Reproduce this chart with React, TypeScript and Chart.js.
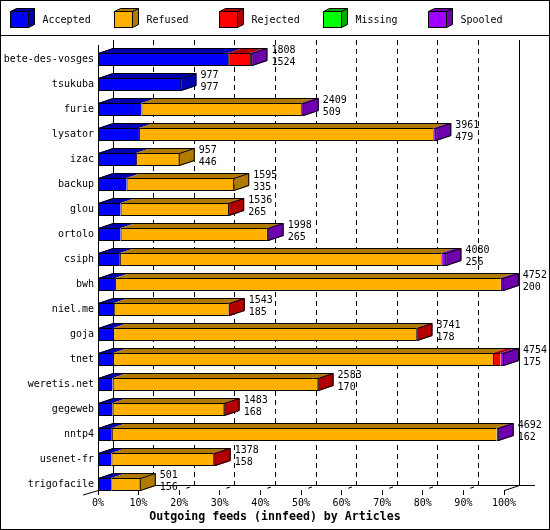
import React, { useEffect, useRef } from "react";
import { Chart, registerables } from "chart.js";

Chart.register(...registerables);

// ---------- data ----------
const hosts = [
  "bete-des-vosges", "tsukuba", "furie", "lysator", "izac", "backup", "glou", "ortolo", "csiph",
  "bwh", "niel.me", "goja", "tnet", "weretis.net", "gegeweb", "nntp4", "usenet-fr", "trigofacile",
];
const accepted = [1524, 977, 509, 479, 446, 335, 265, 265, 256, 200, 185, 178, 175, 170, 168, 162, 158, 156];
const refused = [0, 0, 1870, 3447, 511, 1260, 1259, 1713, 3764, 4517, 1346, 3551, 4449, 2408, 1310, 4505, 1190, 345];
const rejected = [257, 0, 0, 0, 0, 0, 12, 0, 0, 0, 12, 12, 90, 5, 5, 0, 30, 0];
const missing = [0, 0, 0, 0, 0, 0, 0, 0, 0, 0, 0, 0, 0, 0, 0, 0, 0, 0];
const spooled = [27, 0, 30, 35, 0, 0, 0, 20, 60, 35, 0, 0, 40, 0, 0, 25, 0, 0];

const seriesNames = ["Accepted", "Refused", "Rejected", "Missing", "Spooled"];
const frontColors = ["#0000ff", "#ffb000", "#ff0000", "#00ff00", "#a000ff"];
const sideColors = ["#0000b0", "#b07a00", "#b00000", "#00a800", "#6e00b0"];
const xTickValues = [0, 10, 20, 30, 40, 50, 60, 70, 80, 90, 100];
const titleText = "Outgoing feeds (innfeed) by Articles";

const FONT = "'DejaVu Sans Mono', monospace";
const DX = 15;
const DY = 5;

const seriesCounts = [accepted, refused, rejected, missing, spooled];
const totals = hosts.map((_, i) => seriesCounts.reduce((s, arr) => s + arr[i], 0));
const maxTotal = Math.max(...totals);

const crisp = (v: number) => Math.floor(v) + 0.5;

const plot3d = {
  id: "plot3d",
  beforeDatasetsDraw(chart: any) {
    const { ctx, chartArea: ca, scales } = chart;
    const xs = scales.x;
    const topY = ca.top - 7;
    const floorB = ca.bottom - 12;
    const floorF = floorB + DY;
    const x0 = xs.getPixelForValue(0);
    const x100 = xs.getPixelForValue(100);
    ctx.save();
    ctx.strokeStyle = "#000";
    ctx.lineWidth = 1;
    // dashed back grid
    ctx.setLineDash([5, 4]);
    for (const v of xTickValues) {
      if (v === 0 || v === 100) continue;
      const bx = crisp(xs.getPixelForValue(v) + DX);
      ctx.beginPath();
      ctx.moveTo(bx, topY);
      ctx.lineTo(bx, floorB);
      ctx.stroke();
    }
    ctx.setLineDash([]);
    // back walls
    const bl = crisp(x0 + DX);
    const br = crisp(x100 + DX);
    ctx.beginPath();
    ctx.moveTo(bl, topY);
    ctx.lineTo(bl, floorB + 0.5);
    ctx.moveTo(br, topY);
    ctx.lineTo(br, floorB + 0.5);
    ctx.moveTo(bl, crisp(floorB));
    ctx.lineTo(chart.width - 15, crisp(floorB));
    // front left axis
    ctx.moveTo(crisp(x0), ca.top - 2);
    ctx.lineTo(crisp(x0), floorF + 1);
    ctx.stroke();
    // floor diagonals
    ctx.beginPath();
    ctx.moveTo(x0 - DX, floorF + DY);
    ctx.lineTo(x0 + 0.5, floorF + 0.5);
    ctx.moveTo(x100 + 0.5, floorF + 0.5);
    ctx.lineTo(x100 + DX + 0.5, floorB + 0.5);
    ctx.stroke();
    // front ticks and floor markers
    ctx.beginPath();
    for (const v of xTickValues) {
      const fx = crisp(xs.getPixelForValue(v));
      ctx.moveTo(fx, floorF);
      ctx.lineTo(fx, floorF + DY);
      if (v !== 0 && v !== 100) {
        ctx.moveTo(fx + DX * 0.45, floorF - DY * 0.45 + 0.5);
        ctx.lineTo(fx + DX * 0.7, floorF - DY * 0.7 + 0.5);
      }
    }
    ctx.stroke();
    ctx.restore();
  },
  afterDatasetsDraw(chart: any) {
    const { ctx } = chart;
    const metas = chart.data.datasets.map((_: any, k: number) => chart.getDatasetMeta(k));
    ctx.save();
    ctx.lineWidth = 1;
    ctx.strokeStyle = "#000";
    hosts.forEach((_, i) => {
      const segs: { b: number; e: number; y: number; h: number; k: number }[] = [];
      metas.forEach((meta: any, k: number) => {
        const raw = chart.data.datasets[k].data[i];
        if (raw === null || raw === undefined) return;
        const el = meta.data[i];
        if (!el) return;
        const p = el.getProps(["x", "y", "base", "height"], true);
        segs.push({ b: Math.min(p.base, p.x), e: Math.max(p.base, p.x), y: p.y, h: p.height, k });
      });
      if (!segs.length) return;
      const t = segs[0].y - segs[0].h / 2;
      const bot = segs[0].y + segs[0].h / 2;
      const start = segs[0].b;
      const end = segs[segs.length - 1].e;
      const last = segs[segs.length - 1];
      // top faces
      for (const s of segs) {
        ctx.beginPath();
        ctx.moveTo(s.b, t);
        ctx.lineTo(s.b + DX, t - DY);
        ctx.lineTo(s.e + DX, t - DY);
        ctx.lineTo(s.e, t);
        ctx.closePath();
        ctx.fillStyle = sideColors[s.k];
        ctx.fill();
      }
      // side face
      ctx.beginPath();
      ctx.moveTo(end, t);
      ctx.lineTo(end + DX, t - DY);
      ctx.lineTo(end + DX, bot - DY);
      ctx.lineTo(end, bot);
      ctx.closePath();
      ctx.fillStyle = sideColors[last.k];
      ctx.fill();
      // outlines
      ctx.beginPath();
      ctx.moveTo(start + 0.5, t + 0.5);
      ctx.lineTo(start + DX + 0.5, t - DY + 0.5);
      ctx.lineTo(end + DX - 0.5, t - DY + 0.5);
      ctx.lineTo(end + DX - 0.5, bot - DY - 0.5);
      ctx.lineTo(end - 0.5, bot - 0.5);
      ctx.moveTo(end - 0.5, t + 0.5);
      ctx.lineTo(end + DX - 0.5, t - DY + 0.5);
      ctx.moveTo(end - 0.5, t);
      ctx.lineTo(end - 0.5, bot);
      ctx.stroke();
      // value labels
      ctx.fillStyle = "#000";
      ctx.font = "10px " + FONT;
      ctx.textAlign = "left";
      ctx.textBaseline = "alphabetic";
      const c = segs[0].y;
      ctx.fillText(String(totals[i]), end + DX + 4, c - 6.5);
      ctx.fillText(String(accepted[i]), end + DX + 4, c + 5.5);
    });
    ctx.restore();
  },
  afterDraw(chart: any) {
    const { ctx, width, height } = chart;
    ctx.save();
    ctx.strokeStyle = "#000";
    ctx.lineWidth = 1;
    // frame and separator
    ctx.strokeRect(0.5, 0.5, width - 1, height - 1);
    ctx.beginPath();
    ctx.moveTo(0, 35.5);
    ctx.lineTo(width, 35.5);
    ctx.stroke();
    // legend
    chart.data.datasets.forEach((ds: any, k: number) => {
      const x0 = Math.floor(10 + k * 104.5);
      ctx.fillStyle = frontColors[k];
      ctx.fillRect(x0, 11, 19, 17);
      ctx.strokeRect(x0 + 0.5, 11.5, 18, 16);
      ctx.fillStyle = sideColors[k];
      ctx.beginPath();
      ctx.moveTo(x0 + 18.5, 11.5);
      ctx.lineTo(x0 + 24.5, 8.5);
      ctx.lineTo(x0 + 24.5, 24.5);
      ctx.lineTo(x0 + 18.5, 27.5);
      ctx.closePath();
      ctx.fill();
      ctx.stroke();
      ctx.beginPath();
      ctx.moveTo(x0 + 0.5, 11.5);
      ctx.lineTo(x0 + 6.5, 8.5);
      ctx.lineTo(x0 + 24.5, 8.5);
      ctx.lineTo(x0 + 18.5, 11.5);
      ctx.closePath();
      ctx.fill();
      ctx.stroke();
      ctx.fillStyle = "#000";
      ctx.font = "10px " + FONT;
      ctx.textAlign = "left";
      ctx.textBaseline = "middle";
      ctx.fillText(ds.label, x0 + 32.5, 20);
    });
    ctx.restore();
  },
};

export default function App() {
  const ref = useRef<HTMLCanvasElement>(null);
  useEffect(() => {
    Chart.defaults.font.family = FONT;
    Chart.defaults.font.size = 10;
    Chart.defaults.color = "#000";
    const chart = new Chart(ref.current as HTMLCanvasElement, {
      type: "bar",
      data: {
        labels: hosts,
        datasets: seriesNames.map((name, k) => ({
          label: name,
          data: seriesCounts[k].map((v) => (v === 0 ? null : (v / maxTotal) * 100)),
          backgroundColor: frontColors[k],
          borderColor: "#000",
          borderWidth: { top: 1, bottom: 1, left: 1, right: 0 },
          borderSkipped: false,
          barThickness: 13,
          inflateAmount: 0,
          stack: "all",
        })),
      },
      options: {
        indexAxis: "y",
        responsive: false,
        animation: false,
        layout: { padding: { top: 47, bottom: 6.3, left: 0, right: 0 } },
        plugins: {
          legend: { display: false },
          tooltip: { enabled: false },
          title: {
            display: true,
            position: "bottom",
            text: titleText,
            color: "#000",
            font: { family: FONT, size: 11.6, weight: "bold" },
            padding: 0,
          },
        },
        scales: {
          x: {
            type: "linear",
            stacked: true,
            min: 0,
            max: 100,
            grid: { display: false, drawTicks: false },
            border: { display: false },
            ticks: {
              stepSize: 10,
              autoSkip: false,
              maxRotation: 0,
              padding: 0,
              color: "#000",
              font: { family: FONT, size: 10 },
              callback: (v: any) => v + "%",
            },
            afterFit: (s: any) => {
              s.height = 12.78;
            },
          },
          y: {
            type: "category",
            stacked: true,
            grid: { display: false, drawTicks: false },
            border: { display: false },
            ticks: {
              autoSkip: false,
              padding: 4,
              color: "#000",
              font: { family: FONT, size: 10 },
            },
            afterFit: (s: any) => {
              s.width = 98;
            },
          },
          yRight: {
            type: "linear",
            position: "right",
            display: true,
            grid: { display: false, drawTicks: false },
            border: { display: false },
            ticks: { display: false },
            afterFit: (s: any) => {
              s.width = 46;
            },
          },
        },
      },
      plugins: [plot3d],
    } as any);
    return () => chart.destroy();
  }, []);
  return (
    <div style={{ position: "fixed", left: 0, top: 0, width: 550, height: 530, background: "#fff" }}>
      <canvas ref={ref} width={550} height={530} style={{ display: "block", width: 550, height: 530 }} />
    </div>
  );
}
